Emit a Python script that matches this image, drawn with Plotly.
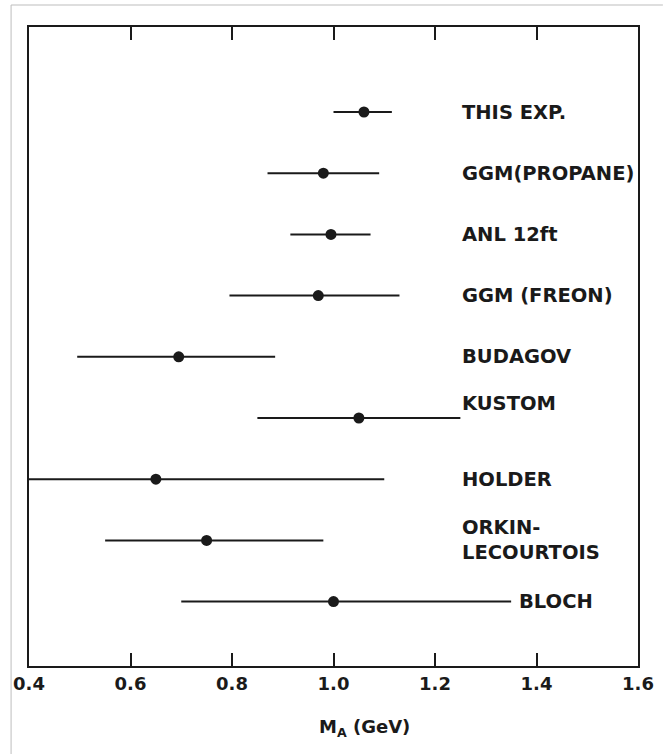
import plotly.graph_objects as go

# Axial-vector mass measurements, top to bottom
experiments = ["THIS EXP.", "GGM(PROPANE)", "ANL 12ft", "GGM (FREON)", "BUDAGOV",
               "KUSTOM", "HOLDER", "ORKIN-<br>LECOURTOIS", "BLOCH"]
m_a = [1.06, 0.98, 0.995, 0.97, 0.695, 1.05, 0.65, 0.75, 1.00]
err_minus = [0.06, 0.11, 0.08, 0.175, 0.20, 0.20, 0.45, 0.20, 0.30]
err_plus = [0.055, 0.11, 0.078, 0.16, 0.19, 0.20, 0.45, 0.23, 0.35]

x_ticks = [0.4, 0.6, 0.8, 1.0, 1.2, 1.4, 1.6]
x_ticktext = ["0.4", "0.6", "0.8", "1.0", "1.2", "1.4", "1.6"]

rows = list(range(len(experiments)))
INK = "#1a1a1a"
FONT = "DejaVu Sans"

fig = go.Figure()
fig.add_trace(go.Scatter(
    x=m_a, y=rows, mode="markers",
    marker=dict(size=11, color=INK),
    error_x=dict(type="data", symmetric=False, array=err_plus, arrayminus=err_minus,
                 width=0, thickness=2, color=INK),
    showlegend=False, hoverinfo="skip",
))

# experiment names to the right of the points
label_x = 1.25
for i, name in enumerate(experiments):
    x = label_x
    y = i
    if name == "BLOCH":
        x = m_a[i] + err_plus[i] + 0.012
    if name == "KUSTOM":
        y = i - 0.23
    fig.add_annotation(x=x, y=y, xref="x", yref="y", text=name, showarrow=False,
                       xanchor="left", yanchor="middle", align="left",
                       font=dict(family=FONT, size=19.5, color=INK, weight="bold"))

# axis title
fig.add_annotation(x=1.061, y=-0.097, xref="x", yref="paper",
                   text="M<sub>A</sub> (GeV)", showarrow=False,
                   xanchor="center", yanchor="middle",
                   font=dict(family=FONT, size=18, color=INK, weight="bold"))

# thin outer border lines
W, H, L, T, R, B = 666, 754, 29, 27, 25, 88
pw, ph = W - L - R, H - T - B
def px(xp):
    return (xp - L) / pw
def py(yp):
    return (H - B - yp) / ph
fig.add_shape(type="line", xref="paper", yref="paper", x0=px(11), x1=px(666), y0=py(5), y1=py(5),
              line=dict(color="#bdbdbd", width=1))
fig.add_shape(type="line", xref="paper", yref="paper", x0=px(11), x1=px(11), y0=py(5), y1=py(754),
              line=dict(color="#bdbdbd", width=1))

fig.update_xaxes(range=[0.4, 1.6], tickvals=x_ticks, ticktext=x_ticktext,
                 ticks="inside", ticklen=13, tickwidth=2, tickcolor=INK,
                 showline=True, linecolor=INK, linewidth=2, mirror="ticks",
                 showgrid=False, zeroline=False,
                 tickfont=dict(family=FONT, size=18, color=INK, weight="bold"))
fig.update_yaxes(range=[9.052, -1.389], showticklabels=False, ticks="",
                 showline=True, linecolor=INK, linewidth=2, mirror=True,
                 showgrid=False, zeroline=False)

fig.update_layout(width=W, height=H, margin=dict(l=L, r=R, t=T, b=B),
                  paper_bgcolor="white", plot_bgcolor="white")

fig.write_html("out.html")
